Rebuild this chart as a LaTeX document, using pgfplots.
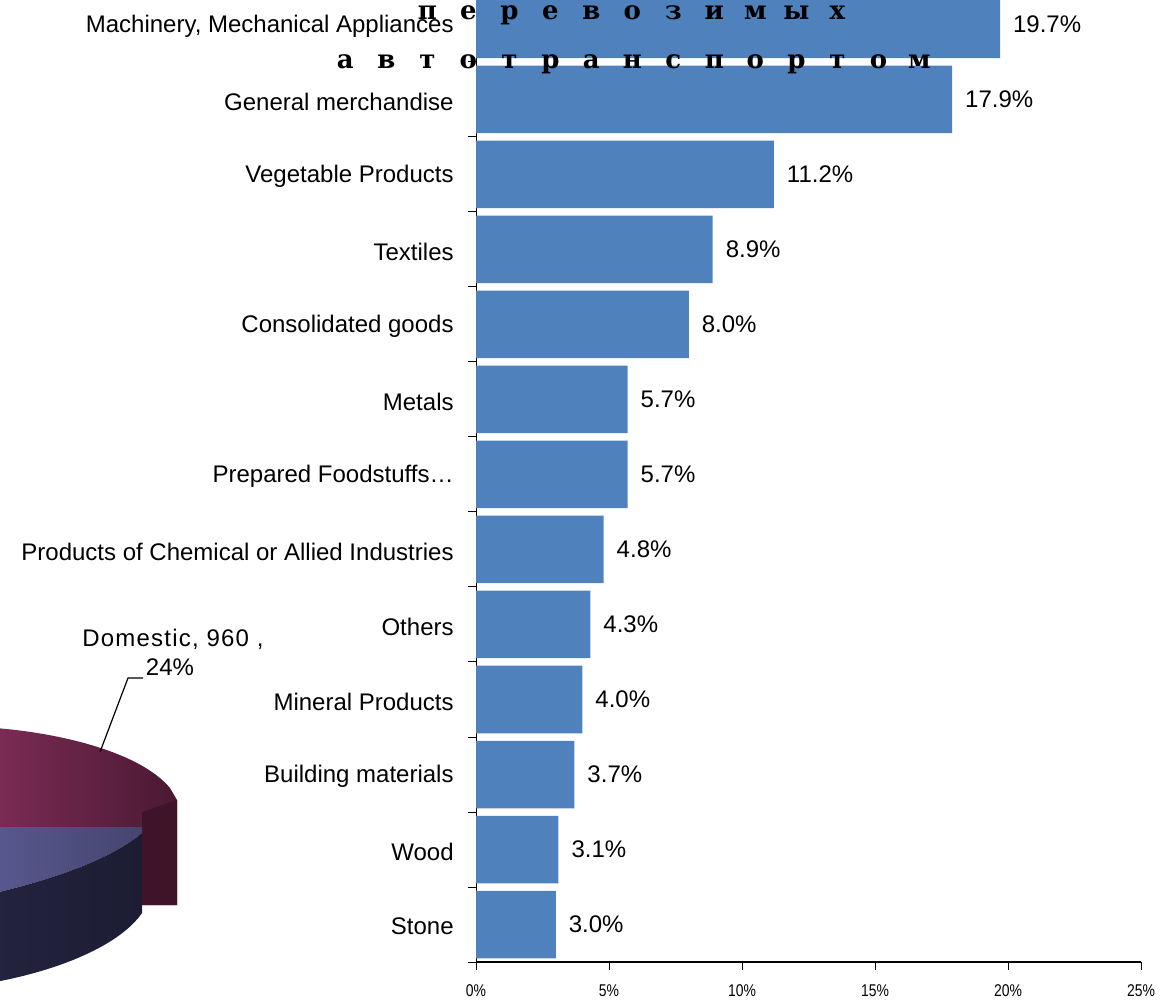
\documentclass[border=0pt]{standalone}
\usepackage{fontspec}
\setmainfont{Liberation Sans}
\newfontfamily\cyrfont{DejaVu Serif}
\usepackage{pgfplots}
\pgfplotsset{compat=1.18}
\usepackage{pgfplotstable}

\definecolor{barblue}{HTML}{4F81BD}
\definecolor{maroonL}{HTML}{7C2B55}
\definecolor{maroonR}{HTML}{4A1933}
\definecolor{maroonS}{HTML}{3F1429}
\definecolor{lavL}{HTML}{58588F}
\definecolor{lavR}{HTML}{45456F}
\definecolor{navyL}{HTML}{23233F}
\definecolor{navyR}{HTML}{1C1C33}

\pgfplotstableread{
pos share
0 3.0
1 3.1
2 3.7
3 4.0
4 4.3
5 4.8
6 5.7
7 5.7
8 8.0
9 8.9
10 11.2
11 17.9
12 19.7
}\sharetable

\newcommand\cl[1]{\makebox[20.5pt]{#1}}

\begin{document}
\begin{tikzpicture}
% pie fragment (pixel units, origin top left)
\begin{scope}[x=0.5pt, y=-0.5pt, yshift=500.5pt]
  \shade[left color=maroonL, right color=maroonR]
    (-5,728) .. controls (60,733) and (140,752) .. (170,788) -- (177,800)
    -- (177,905) -- (142,905) -- (142,827) -- (-5,827) -- cycle;
  \fill[maroonS] (142,812) -- (177,800) -- (177,905) -- (142,905) -- cycle;
  \shade[left color=lavL, right color=lavR]
    (-5,827) -- (142,827) -- (142,833) .. controls (110,860) and (50,880) .. (-5,893) -- cycle;
  \shade[left color=navyL, right color=navyR]
    (-5,893) .. controls (50,880) and (110,860) .. (142,833) -- (142,913)
    .. controls (120,945) and (60,970) .. (-5,982) -- cycle;
  \draw[black, line width=0.6pt] (100,752) -- (128,678) -- (143,678);
  \node[anchor=base, inner sep=0pt, font=\fontsize{12}{12}\selectfont\addfontfeature{LetterSpace=5}] at (173,647) {Domestic, 960 ,};
  \node[anchor=base, inner sep=0pt, font=\fontsize{12}{12}\selectfont] at (170,676) {24\%};
\end{scope}

\begin{axis}[
  at={(238pt,19.5pt)}, anchor=south west,
  scale only axis, width=332.5pt, height=487.5pt,
  xbar, bar width=0.9,
  xmin=0, xmax=25, ymin=-0.5, ymax=12.5,
  axis lines=left,
  x axis line style={-, line width=1pt},
  y axis line style={-, line width=0.5pt},
  xtick={0,5,...,25},
  xticklabels={0\%,5\%,10\%,15\%,20\%,25\%},
  xticklabel style={font=\fontsize{8.5}{9}\selectfont\addfontfeature{FakeStretch=0.82}, yshift=-4pt},
  ytick={0,...,12},
  yticklabels={Stone, Wood, Building materials, Mineral Products, Others,
    Products of Chemical or Allied Industries, Prepared Foodstuffs…, Metals,
    Consolidated goods, Textiles, Vegetable Products, General merchandise,
    {Machinery, Mechanical Appliances}},
  yticklabel style={font=\fontsize{12}{14}\selectfont, inner sep=0pt, xshift=-7pt, yshift=-1pt},
  major y tick style={draw=none},
  minor ytick={-0.5,0.5,...,12.5},
  tick align=outside,
  major tick length=4pt, minor tick length=4pt,
  tick style={black, line width=0.5pt},
  point meta=x,
  nodes near coords={\pgfmathprintnumber[fixed, fixed zerofill, precision=1, assume math mode=true]{\pgfplotspointmeta}\%},
  nodes near coords style={font=\fontsize{12}{14}\selectfont, anchor=west, xshift=3pt},
  clip=false,
]
\addplot[fill=barblue, draw=none] table[x=share, y=pos] {\sharetable};
\end{axis}

% overlapping Cyrillic title remnants
\node[anchor=base west, inner sep=0pt, font=\cyrfont\bfseries\fontsize{13}{13}\selectfont] at (203.25pt,490.5pt)
  {\cl{п}\cl{е}\cl{р}\cl{е}\cl{в}\cl{о}\cl{з}\cl{и}\cl{м}\cl{ы}\cl{х}};
\node[anchor=base west, inner sep=0pt, font=\cyrfont\bfseries\fontsize{13}{13}\selectfont] at (162.25pt,466pt)
  {\cl{а}\cl{в}\cl{т}\cl{о}\cl{т}\cl{р}\cl{а}\cl{н}\cl{с}\cl{п}\cl{о}\cl{р}\cl{т}\cl{о}\cl{м}};

\pgfresetboundingbox
\useasboundingbox (0,0) rectangle (580pt,500.5pt);
\end{tikzpicture}
\end{document}
